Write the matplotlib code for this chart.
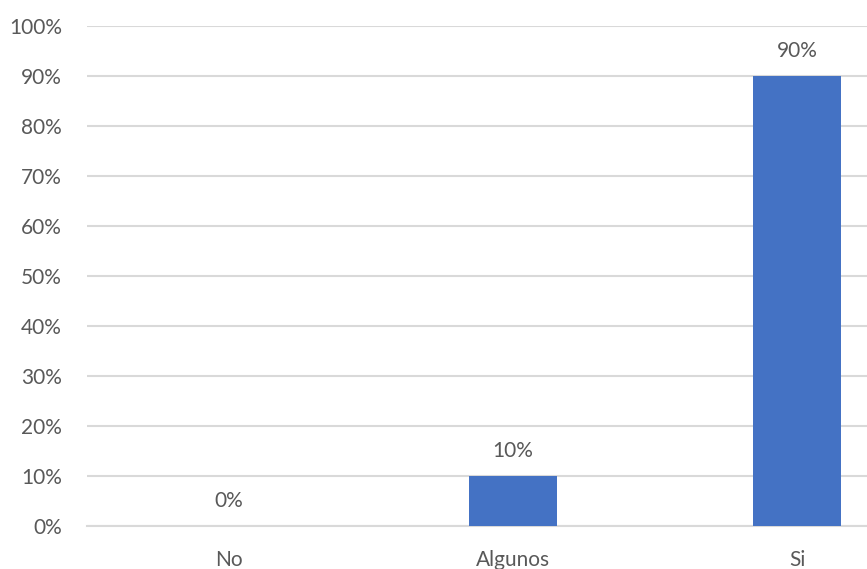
"""
Bar chart of answer shares (No / Algunos / Si).
"""
import matplotlib
matplotlib.use("Agg")
import matplotlib.pyplot as plt
from matplotlib.ticker import FuncFormatter

categories = ["No", "Algunos", "Si"]
shares = [0, 10, 90]
y_ticks = list(range(0, 101, 10))


def main():
    plt.rcParams["font.family"] = ["Lato", "DejaVu Sans"]
    text_color = "#595959"
    grid_color = "#D9D9D9"

    fig = plt.figure(figsize=(8.67, 5.69), dpi=100)
    # axes runs past the right edge of the figure on purpose
    ax = fig.add_axes([87 / 867, 43 / 569, 852 / 867, 500 / 569])

    x = list(range(len(categories)))
    bars = ax.bar(x, shares, width=0.31, color="#4472C4", zorder=3)

    for rect, val in zip(bars, shares):
        ax.annotate(f"{val}%", (rect.get_x() + rect.get_width() / 2, val),
                    xytext=(0, 11), textcoords="offset points",
                    ha="center", va="bottom", fontsize=15, color=text_color)

    ax.set_xlim(-0.5, 2.5)
    ax.set_ylim(0, 100)
    ax.set_yticks(y_ticks)
    ax.yaxis.set_major_formatter(FuncFormatter(lambda v, _: f"{v:.0f}%"))
    ax.set_xticks(x)
    ax.set_xticklabels(categories)

    ax.grid(axis="y", color=grid_color, linewidth=1.5, zorder=0)
    for side in ["top", "right", "left"]:
        ax.spines[side].set_visible(False)
    ax.spines["bottom"].set_color(grid_color)
    ax.spines["bottom"].set_linewidth(1.5)

    ax.tick_params(axis="both", length=0, labelsize=15, colors=text_color)
    ax.tick_params(axis="y", pad=18)
    ax.tick_params(axis="x", pad=17)

    fig.savefig("out.png", dpi=100)


if __name__ == "__main__":
    main()
